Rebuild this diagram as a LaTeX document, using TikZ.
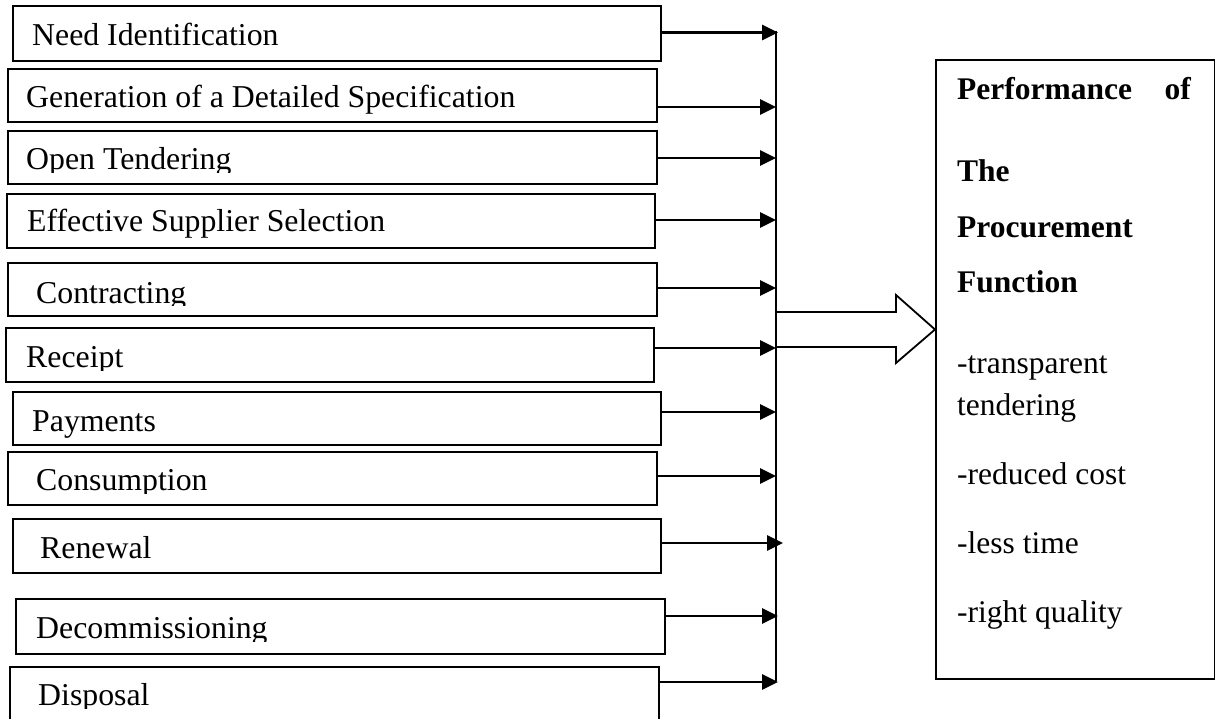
\documentclass[tikz,border=0pt]{standalone}
\usepackage{fontspec}
\setmainfont{Liberation Serif}
\usetikzlibrary{arrows.meta,calc}
\begin{document}
\begin{tikzpicture}[x=1pt,y=-1pt,
  stagebox/.style={draw=black, line width=1.6pt, rectangle, inner sep=0pt, anchor=north west},
  lbl/.style={anchor=base west, inner sep=0pt, font=\fontsize{31.8}{36}\selectfont},
  lble/.style={anchor=base east, inner sep=0pt, font=\fontsize{31.5}{36}\selectfont},
  feed/.style={line width=2.8pt, -{Triangle[length=16pt,width=15pt]}},
  bus/.style={line width=1.8pt},
  hollow/.style={line width=1.8pt, line join=miter}]
\useasboundingbox (0,0) rectangle (1215,719);

% stage boxes
\node[stagebox, minimum width=648pt, minimum height=55pt] (b1) at (12,5) {};
\node[stagebox, minimum width=649pt, minimum height=53pt] (b2) at (7,68) {};
\node[stagebox, minimum width=649pt, minimum height=53pt] (b3) at (7,130) {};
\node[stagebox, minimum width=648pt, minimum height=54pt] (b4) at (6,193) {};
\node[stagebox, minimum width=649pt, minimum height=53pt] (b5) at (7,262) {};
\node[stagebox, minimum width=648pt, minimum height=54pt] (b6) at (5,327) {};
\node[stagebox, minimum width=648pt, minimum height=53pt] (b7) at (12,391) {};
\node[stagebox, minimum width=649pt, minimum height=53pt] (b8) at (7,451) {};
\node[stagebox, minimum width=648pt, minimum height=54pt] (b9) at (12,518) {};
\node[stagebox, minimum width=649pt, minimum height=55pt] (b10) at (15,598) {};
\node[stagebox, minimum width=649pt, minimum height=74pt] (b11) at (9,666) {};

% stage texts
\node[lbl] (t1) at (32,46) {Need Identification};
\node[lbl] (t2) at (26,108) {Generation of a Detailed Specification};
\begin{scope}\clip (0,0) rectangle (700,173);
\node[lbl] (t3) at (26,170) {Open Tendering};\end{scope}
\node[lbl] (t4) at (27,232) {Effective Supplier Selection};
\begin{scope}\clip (0,0) rectangle (700,305.5);
\node[lbl] (t5) at (36,303) {Contracting};\end{scope}
\begin{scope}\clip (0,0) rectangle (700,370);
\node[lbl] (t6) at (26,367) {Receipt};\end{scope}
\node[lbl] (t7) at (32,431) {Payments};
\begin{scope}\clip (0,0) rectangle (700,493);
\node[lbl] (t8) at (36,490) {Consumption};\end{scope}
\node[lbl] (t9) at (40,558) {Renewal};
\begin{scope}\clip (0,0) rectangle (700,641);
\node[lbl] (t10) at (36,638) {Decommissioning};\end{scope}
\begin{scope}\clip (0,0) rectangle (700,708);
\node[lbl] (t11) at (38,705) {Disposal};\end{scope}

% bus line and arrow ends
\coordinate (vtop) at (776,31);
\coordinate (vbot) at (776,681);
\draw[bus] (vtop) -- (vbot);
\coordinate (a1) at (778,32.5);
\coordinate (a2) at (776,107);
\coordinate (a3) at (776,158);
\coordinate (a4) at (776,220);
\coordinate (a5) at (776,288);
\coordinate (a6) at (776,348);
\coordinate (a7) at (776,412);
\coordinate (a8) at (776,476);
\coordinate (a9) at (783,543);
\coordinate (a10) at (778,616);
\coordinate (a11) at (778,682);
\foreach \i in {1,...,11} {\draw[feed] (b\i.east |- a\i) -- (a\i);}

% result box
\node[stagebox, minimum width=279pt, minimum height=619pt] (rb) at (935,59) {};
\node[lbl, font=\fontsize{31.5}{36}\selectfont\bfseries] (r1) at (957,100) {Performance};
\node[lble, font=\fontsize{31.5}{36}\selectfont\bfseries] (r1b) at (1191,100) {of};
\node[lbl, font=\fontsize{31.5}{36}\selectfont\bfseries] (r2) at (957,182) {The};
\node[lbl, font=\fontsize{31.5}{36}\selectfont\bfseries] (r3) at (957,238) {Procurement};
\node[lbl, font=\fontsize{31.5}{36}\selectfont\bfseries] (r4) at (957,293) {Function};
\node[lbl, font=\fontsize{31.5}{36}\selectfont] (r5) at (957,373) {-transparent};
\node[lbl, font=\fontsize{31.5}{36}\selectfont] (r6) at (957,415) {tendering};
\node[lbl, font=\fontsize{31.5}{36}\selectfont] (r7) at (957,484) {-reduced cost};
\node[lbl, font=\fontsize{31.5}{36}\selectfont] (r8) at (957,553) {-less time};
\node[lbl, font=\fontsize{31.5}{36}\selectfont] (r9) at (957,622) {-right quality};

% hollow block arrow
\coordinate (hc) at (776,329.5);
\draw[hollow] ($(hc)+(0,-17.5)$) -- ($(hc)+(120,-17.5)$) -- ($(hc)+(120,-34.5)$)
  -- (rb.west |- hc) -- ($(hc)+(120,33.5)$) -- ($(hc)+(120,17.5)$) -- ($(hc)+(0,17.5)$);
\end{tikzpicture}
\end{document}
